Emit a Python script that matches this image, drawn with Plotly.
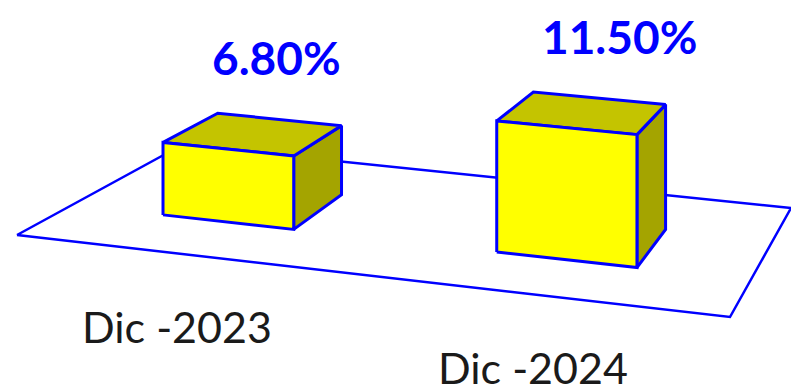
import plotly.graph_objects as go

# ---- data ----
categories = ["Dic -2023", "Dic -2024"]
values = [6.80, 11.50]
value_labels = ["6.80%", "11.50%"]

# ---- 3D scene geometry (pixel space of the 791x388 canvas) ----
W, H = 791, 388
FLOOR_FRONT_LEFT = (17, 235)
FLOOR_FRONT_RIGHT = (730, 317)
FLOOR_BACK_RIGHT = (791, 208)
FLOOR_BACK_LEFT = (182, 145)
BAR_WIDTH = 0.2           # fraction of floor width
CAT_OFFSET = -0.008       # small shift of category centres along the floor
BAR_Z0, BAR_Z1 = 0.30, 0.66  # depth range of bars on floor (0 = front, 1 = back)
VALUE_MIN = 0.5          # value at the floor
PX_PER_UNIT = 12.0       # vertical pixels per value unit (at unit perspective)

BLUE = "#0000FF"
FRONT = "#FFFF00"
TOP = "#C4C400"
SIDE = "#A4A400"


def make_projection(p00, p10, p11, p01):
    x0, y0 = p00
    x1, y1 = p10
    x2, y2 = p11
    x3, y3 = p01
    dx1, dx2, sx = x1 - x2, x3 - x2, x0 - x1 + x2 - x3
    dy1, dy2, sy = y1 - y2, y3 - y2, y0 - y1 + y2 - y3
    den = dx1 * dy2 - dx2 * dy1
    g = (sx * dy2 - dx2 * sy) / den
    h = (dx1 * sy - sx * dy1) / den
    a = x1 - x0 + g * x1
    b = x3 - x0 + h * x3
    d = y1 - y0 + g * y1
    e = y3 - y0 + h * y3

    def proj(X, Z, Yv=0.0):
        w = 1 + g * X + h * Z
        px = (a * X + b * Z + x0) / w
        py = (d * X + e * Z + y0) / w
        return px, py - Yv / w

    return proj


proj = make_projection(FLOOR_FRONT_LEFT, FLOOR_FRONT_RIGHT, FLOOR_BACK_RIGHT, FLOOR_BACK_LEFT)

fig = go.Figure()


def poly(points, fill, width):
    xs = [p[0] for p in points] + [points[0][0]]
    ys = [p[1] for p in points] + [points[0][1]]
    fig.add_trace(go.Scatter(
        x=xs, y=ys, mode="lines",
        fill="toself" if fill else None,
        fillcolor=fill if fill else None,
        line=dict(color=BLUE, width=width),
        hoverinfo="skip", showlegend=False,
    ))


# floor
poly([proj(0, 0), proj(1, 0), proj(1, 1), proj(0, 1)], None, 2.5)

n = len(categories)
for i, (cat, val, lab) in enumerate(zip(categories, values, value_labels)):
    xc = (i + 0.5) / n + CAT_OFFSET
    xl, xr = xc - BAR_WIDTH / 2, xc + BAR_WIDTH / 2
    hv = (val - VALUE_MIN) * PX_PER_UNIT
    fbl, fbr = proj(xl, BAR_Z0), proj(xr, BAR_Z0)
    bbr = proj(xr, BAR_Z1)
    ftl, ftr = proj(xl, BAR_Z0, hv), proj(xr, BAR_Z0, hv)
    btl, btr = proj(xl, BAR_Z1, hv), proj(xr, BAR_Z1, hv)
    poly([fbr, bbr, btr, ftr], SIDE, 3)
    poly([ftl, ftr, btr, btl], TOP, 3)
    poly([fbl, fbr, ftr, ftl], FRONT, 3)

    # value label above the bar
    fig.add_annotation(x=ftr[0] - 17, y=ftr[1] - 98, text=f"<b>{lab}</b>",
                       showarrow=False, xanchor="center", yanchor="middle",
                       font=dict(family="Lato", size=46, color=BLUE))
    # category label below the floor front edge
    cx, cy = proj(xc, 0)
    fig.add_annotation(x=cx - 3, y=cy + 73, text=cat,
                       showarrow=False, xanchor="center", yanchor="middle",
                       font=dict(family="Lato", size=43, color="#1a1a1a"))

fig.update_layout(
    width=W, height=H,
    margin=dict(l=0, r=0, t=0, b=0),
    paper_bgcolor="white", plot_bgcolor="white",
    xaxis=dict(range=[0, W], visible=False, fixedrange=True),
    yaxis=dict(range=[H, 0], visible=False, fixedrange=True),
    showlegend=False,
)

fig.write_html("out.html", config={"displayModeBar": False})
